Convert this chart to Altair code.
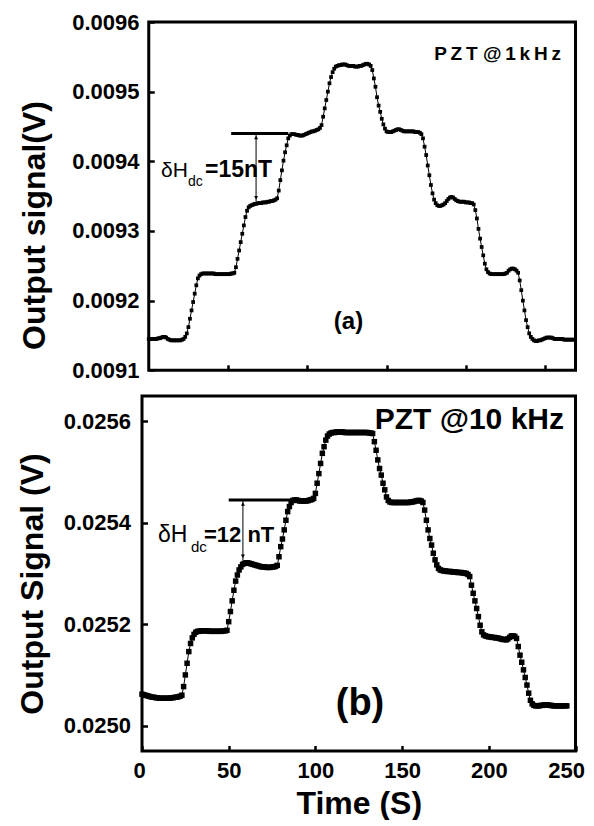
import altair as alt
import pandas as pd

FONT = "Liberation Sans"

# ---------------- data: output signal in microvolts, one sample per second ----------------
TOP_UV = [
    9145, 9145, 9145, 9145, 9145, 9145, 9146, 9146, 9147, 9148,
    9148, 9147, 9145, 9144, 9143, 9143, 9143, 9143, 9143, 9143,
    9143, 9144, 9145, 9148,
    9153, 9162, 9174, 9186, 9198, 9210, 9222, 9232, 9236, 9238,
    9239, 9239, 9239, 9239, 9239, 9239, 9239, 9239, 9238, 9238, 9238, 9238, 9238, 9238, 9238,
    9238, 9238, 9238, 9239, 9239, 9240,
    9248, 9260, 9272, 9284, 9296, 9308, 9320, 9329, 9334, 9336, 9337,
    9338, 9339, 9339, 9340, 9340, 9340, 9341, 9341, 9341, 9342, 9342, 9343, 9343, 9344, 9345, 9347,
    9358, 9373, 9387, 9401, 9413, 9423, 9433, 9437, 9439,
    9439, 9439, 9438, 9438, 9437, 9437, 9437, 9438, 9439, 9440, 9441, 9442, 9443, 9443, 9444,
    9445, 9446, 9448,
    9452, 9464, 9476, 9488, 9500, 9512, 9521, 9528, 9533, 9536, 9537,
    9538, 9538, 9539, 9539, 9539, 9538, 9537, 9537, 9537, 9537, 9536, 9536, 9536, 9537, 9537,
    9538, 9539, 9540, 9540, 9539, 9537,
    9531, 9519, 9507, 9492, 9480, 9471, 9461, 9453, 9447, 9443, 9442,
    9442, 9442, 9443, 9444, 9445, 9446, 9446, 9445, 9444, 9443, 9443, 9443, 9443, 9443, 9443,
    9443, 9442, 9442, 9442, 9441, 9439,
    9433, 9421, 9409, 9394, 9380, 9366, 9354, 9345, 9340, 9337, 9336, 9336, 9337, 9338, 9340,
    9343, 9346, 9348, 9349, 9348, 9346, 9344, 9343,
    9342, 9342, 9342, 9342, 9341, 9341, 9341, 9340, 9340, 9338,
    9330, 9318, 9303, 9289, 9277, 9265, 9253, 9245, 9241, 9239, 9238, 9238, 9238, 9238, 9238,
    9238, 9238, 9238, 9238, 9239, 9240, 9243, 9245, 9246, 9246, 9245, 9243, 9240,
    9229, 9215, 9200, 9186, 9172, 9162, 9153, 9148, 9145, 9143, 9142, 9142, 9143, 9143, 9144,
    9145, 9146, 9147, 9147, 9147, 9147, 9146, 9145, 9145, 9145, 9145, 9145, 9145, 9144, 9144,
    9144, 9144, 9144, 9144, 9144,
]

BOT_UV = [
    25062, 25061, 25060, 25059, 25058, 25057, 25056, 25056, 25055, 25055,
    25054, 25054, 25054, 25054, 25054, 25054, 25054, 25055, 25055, 25056,
    25056, 25057, 25058, 25060,
    25077, 25100, 25123, 25146, 25162, 25173, 25180, 25184,
    25186, 25186, 25187, 25187, 25187, 25187, 25187, 25186, 25186, 25186, 25186, 25186, 25186,
    25186, 25186, 25187, 25187, 25188,
    25205, 25225, 25246, 25267, 25285, 25297, 25307, 25313, 25318, 25320,
    25321, 25321, 25320, 25319, 25318, 25317, 25316, 25315, 25314, 25313, 25313, 25313, 25312,
    25312, 25312, 25313, 25313, 25314, 25316,
    25333, 25353, 25368, 25386, 25405, 25422, 25432, 25440, 25444,
    25445, 25445, 25444, 25443, 25443, 25443, 25443, 25443, 25444, 25445, 25446, 25448,
    25458, 25478, 25497, 25517, 25537, 25550, 25563, 25571, 25575, 25577,
    25578, 25578, 25579, 25579, 25579, 25579, 25579, 25578, 25578, 25578, 25578, 25578, 25578,
    25578, 25578, 25578, 25578, 25578, 25578, 25578, 25578, 25577, 25577, 25576,
    25560, 25543, 25524, 25507, 25494, 25478, 25465, 25451, 25444, 25441,
    25440, 25440, 25440, 25440, 25440, 25440, 25440, 25440, 25440, 25440, 25440, 25441, 25441,
    25442, 25443, 25444, 25444, 25443, 25440,
    25425, 25405, 25386, 25369, 25356, 25340, 25327, 25317, 25310, 25307,
    25306, 25305, 25305, 25304, 25304, 25304, 25303, 25303, 25303, 25302, 25302, 25302, 25301,
    25301, 25300, 25298,
    25294, 25277, 25261, 25246, 25231, 25215, 25198, 25185, 25179, 25177, 25176,
    25175, 25175, 25174, 25174, 25173, 25173, 25172, 25171, 25170, 25170, 25169, 25171, 25174,
    25177, 25177, 25176, 25172,
    25156, 25139, 25125, 25110, 25095, 25080, 25064, 25050, 25043, 25040,
    25039, 25039, 25039, 25040, 25040, 25041, 25041, 25041, 25040, 25040, 25039, 25039, 25039,
    25039, 25039, 25039, 25039, 25039, 25039,
]

TOP_T = list(range(len(TOP_UV)))   # seconds
BOT_T = list(range(len(BOT_UV)))   # seconds

# axis settings
TOP_Y_TICKS = [0.0091, 0.0092, 0.0093, 0.0094, 0.0095, 0.0096]
BOT_Y_TICKS = [0.0250, 0.0252, 0.0254, 0.0256]
X_TICKS = [0, 50, 100, 150, 200, 250]
TOP_X_TICKS = [50, 100, 150, 200, 250]

# annotations (data coordinates)
TOP_STEP = {"t": [52], "t2": [88], "hi": [0.009440], "lo": [0.009342], "ta": [67.7]}
BOT_STEP = {"t": [50], "t2": [86], "hi": [0.025445], "lo": [0.025326], "ta": [58.2]}
TOP_LABELS = ["P\u2009Z\u2009T @\u20091\u2009k\u2009H\u2009z", "(a)", "\u03b4H", "dc", "=15nT"]
BOT_LABELS = ["PZT @10 kHz", "(b)", "\u03b4H", "dc", "=12 nT"]

W = 433.5
H_TOP = 348.3
H_BOT = 355
TOP_X0 = 6.75
TICK = 5.5

top_df = pd.DataFrame({"t": TOP_T, "v": [u * 1e-6 for u in TOP_UV]})
bot_df = pd.DataFrame({"t": BOT_T, "v": [u * 1e-6 for u in BOT_UV]})

label_style = dict(labelFont=FONT, labelFontWeight="bold", labelFontSize=22, labelColor="black",
                   tickColor="black", tickWidth=2.5, tickSize=TICK, domain=False, grid=False,
                   titleFont=FONT, titleFontWeight="bold", titleFontSize=32, titleColor="black")


def frame(x0, w, h):
    return alt.Chart(alt.Data(values=[{"f": 1}])).mark_rect(
        filled=False, stroke="black", strokeWidth=3
    ).encode(x=alt.value(x0), x2=alt.value(w), y=alt.value(0), y2=alt.value(h))


def text_layer(s, x, y, size, weight="normal", align="left"):
    return alt.Chart(pd.DataFrame({"s": [s]})).mark_text(
        align=align, baseline="alphabetic", font=FONT, fontSize=size, fontWeight=weight, color="black"
    ).encode(x=alt.value(x), y=alt.value(y), text="s:N")


def panel(df, xs, ys, step, labels, sq, layout):
    line = alt.Chart(df).mark_line(color="black", strokeWidth=1).encode(x=xs, y=ys)
    pts = alt.Chart(df).mark_square(color="black", size=sq, opacity=1).encode(x=xs, y=ys)
    sdf = pd.DataFrame(step)
    bar = alt.Chart(sdf).mark_rule(color="black", strokeWidth=3).encode(
        x=alt.X("t:Q"), x2="t2:Q", y=alt.Y("hi:Q"))
    arrow = alt.Chart(sdf).mark_rule(color="black", strokeWidth=1).encode(
        x=alt.X("ta:Q"), y=alt.Y("hi:Q"), y2="lo:Q")
    head_up = alt.Chart(sdf).mark_point(shape="triangle-up", filled=True, size=16, color="black",
                                        opacity=1, yOffset=4).encode(x=alt.X("ta:Q"), y=alt.Y("hi:Q"))
    head_dn = alt.Chart(sdf).mark_point(shape="triangle-down", filled=True, size=16, color="black",
                                        opacity=1, yOffset=-4).encode(x=alt.X("ta:Q"), y=alt.Y("lo:Q"))
    texts = [text_layer(labels[i], *layout[i]) for i in range(len(labels))]
    return [line, pts, bar, arrow, head_up, head_dn] + texts


# ---------------- top panel ----------------
xs_top = alt.X("t:Q", scale=alt.Scale(domain=[0, 269.2], range=[TOP_X0, W], nice=False, zero=False),
               axis=alt.Axis(values=TOP_X_TICKS, labels=False, offset=-TICK, title=None, **label_style))
ys_top = alt.Y("v:Q", scale=alt.Scale(domain=[0.0091, 0.0096], nice=False, zero=False),
               axis=alt.Axis(values=TOP_Y_TICKS, format=".4f", offset=-(TOP_X0 + TICK), labelPadding=9.75,
                             title="Output signal(V)", titleAngle=270, titleAlign="center",
                             titleBaseline="alphabetic", titleX=-110.25, titleY=203, **label_style))
top_layout = [
    (419, 38.3, 19, "bold", "right"),
    (206.5, 306.6, 24, "bold", "center"),
    (19, 155.3, 21, "normal", "left"),
    (46, 164.3, 14, "normal", "left"),
    (63, 155.3, 23, "bold", "left"),
]
top = alt.layer(frame(TOP_X0, W, H_TOP),
                *panel(top_df, xs_top, ys_top, TOP_STEP, TOP_LABELS, 14, top_layout)
                ).properties(width=W, height=H_TOP)

# ---------------- bottom panel ----------------
xs_bot = alt.X("t:Q", scale=alt.Scale(domain=[0, 250], nice=False, zero=False),
               axis=alt.Axis(values=X_TICKS, offset=-TICK, labelPadding=9.3, labelAngle=0,
                             labelFlush=True, labelFlushOffset=9,
                             title="Time (S)", titleAlign="center", titleBaseline="alphabetic",
                             titleX=W / 2, titleY=68, **label_style))
ys_bot = alt.Y("v:Q", scale=alt.Scale(domain=[0.02495, 0.02565], nice=False, zero=False),
               axis=alt.Axis(values=BOT_Y_TICKS, format=".4f", offset=-TICK, labelPadding=11.5,
                             title="Output Signal (V)", titleAngle=270, titleAlign="center",
                             titleBaseline="alphabetic", titleX=-105, titleY=187.5, **label_style))
bot_layout = [
    (422, 33, 30, "bold", "right"),
    (218, 319, 38, "bold", "center"),
    (16, 145.5, 23, "normal", "left"),
    (49, 155.5, 15, "normal", "left"),
    (62, 145.5, 22, "bold", "left"),
]
bot = alt.layer(frame(0, W, H_BOT),
                *panel(bot_df, xs_bot, ys_bot, BOT_STEP, BOT_LABELS, 30, bot_layout)
                ).properties(width=W, height=H_BOT)

chart = alt.vconcat(top, bot, spacing=12).properties(
    padding={"left": 8, "top": 3, "right": 0, "bottom": 0}, background="white"
).configure_view(strokeWidth=0)

chart.save("out.html", embed_options={"renderer": "svg", "actions": False})
